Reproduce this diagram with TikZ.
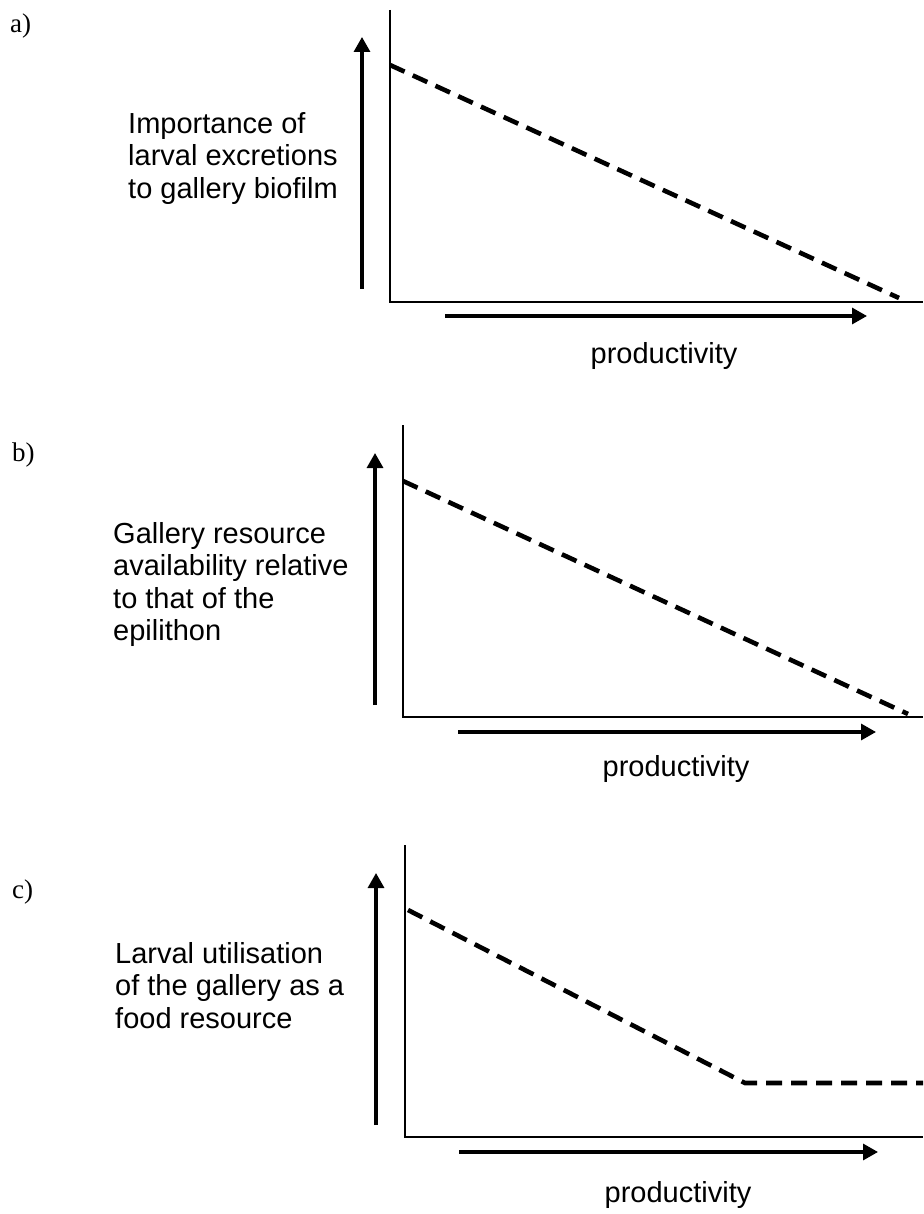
\documentclass[tikz,border=0pt]{standalone}
\usepackage{fontspec}
\setmainfont{Liberation Serif}
\newfontfamily\arialfont{Liberation Sans}
\usepackage{tikz}
\usetikzlibrary{positioning,arrows.meta}

\begin{document}
\begin{tikzpicture}[
  x=1pt, y=-1pt,
  lbl/.style={font=\arialfont\fontsize{29}{32.5}\selectfont, inner sep=0pt, align=left, anchor=north west},
  prodlbl/.style={font=\arialfont\fontsize{29}{32.5}\selectfont, inner sep=0pt, anchor=base},
  tag/.style={font=\fontsize{27}{30}\selectfont, inner sep=0pt, anchor=base west},
  axisline/.style={draw=black, line width=1.7pt},
  trend/.style={draw=black, line width=4.6pt, dash pattern=on 16pt off 9pt},
  bigarrow/.style={draw=black, line width=3.2pt, -{Triangle[length=15pt,width=16pt]}}
]
\useasboundingbox (0,0) rectangle (923,1214);

% panel a
\coordinate (ya1) at (390, 10);
\coordinate (oa) at (390, 302);
\coordinate (xa1) at (923, 302);
\coordinate (ta0) at (390, 65);
\coordinate (ta1) at (899, 298);
\coordinate (ua0) at (362, 289);
\coordinate (ua1) at (362, 37);
\coordinate (ra0) at (445, 316);
\coordinate (ra1) at (867, 316);
\node[tag] (taga) at (10, 33) {a)};
\node[lbl] (lbla) at (128, 112) {Importance of\\larval excretions\\to gallery biofilm};
\node[prodlbl] (proda) at (664, 363) {productivity};
\draw[axisline] (ya1) -- (oa) -- (xa1);
\draw[trend] (ta0) -- (ta1);
\draw[bigarrow] (ua0) -- (ua1);
\draw[bigarrow] (ra0) -- (ra1);

% panel b
\coordinate (yb1) at (403, 425);
\coordinate (ob) at (403, 717);
\coordinate (xb1) at (923, 717);
\coordinate (tb0) at (403, 481);
\coordinate (tb1) at (908, 714);
\coordinate (ub0) at (375, 705);
\coordinate (ub1) at (375, 453);
\coordinate (rb0) at (458, 732);
\coordinate (rb1) at (876, 732);
\node[tag] (tagb) at (12, 461) {b)};
\node[lbl] (lblb) at (113, 522) {Gallery resource\\availability relative\\to that of the\\epilithon};
\node[prodlbl] (prodb) at (676, 776) {productivity};
\draw[axisline] (yb1) -- (ob) -- (xb1);
\draw[trend] (tb0) -- (tb1);
\draw[bigarrow] (ub0) -- (ub1);
\draw[bigarrow] (rb0) -- (rb1);

% panel c
\coordinate (yc1) at (405, 845);
\coordinate (oc) at (405, 1137);
\coordinate (xc1) at (923, 1137);
\coordinate (tc0) at (408, 910);
\coordinate (tck) at (745, 1083);
\coordinate (tc1) at (923, 1083);
\coordinate (uc0) at (376, 1125);
\coordinate (uc1) at (376, 873);
\coordinate (rc0) at (459, 1152);
\coordinate (rc1) at (878, 1152);
\node[tag] (tagc) at (12, 898) {c)};
\node[lbl] (lblc) at (115, 942) {Larval utilisation\\of the gallery as a\\food resource};
\node[prodlbl] (prodc) at (678, 1202) {productivity};
\draw[axisline] (yc1) -- (oc) -- (xc1);
\draw[trend] (tc0) -- (tck) -- (tc1);
\draw[bigarrow] (uc0) -- (uc1);
\draw[bigarrow] (rc0) -- (rc1);

\end{tikzpicture}
\end{document}
